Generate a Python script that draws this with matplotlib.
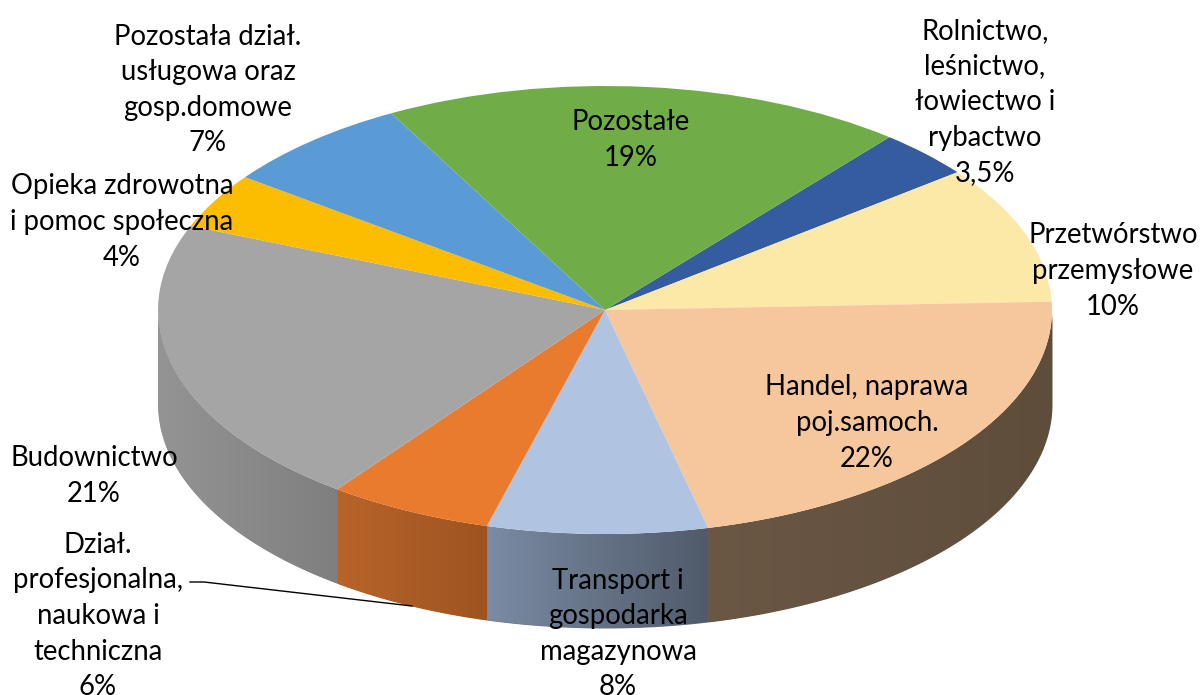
import numpy as np
import matplotlib
matplotlib.use('Agg')
import matplotlib.pyplot as plt
from matplotlib.colors import to_rgb

# Share of each section, clockwise from the top right
sections = ['Rolnictwo, leśnictwo, łowiectwo i rybactwo', 'Przetwórstwo przemysłowe',
            'Handel, naprawa poj.samoch.', 'Transport i gospodarka magazynowa',
            'Dział. profesjonalna, naukowa i techniczna', 'Budownictwo',
            'Opieka zdrowotna i pomoc społeczna', 'Pozostała dział. usługowa oraz gosp.domowe',
            'Pozostałe']
values = [3.5, 10, 22, 8, 6, 21, 4, 7, 19]
top_colors = ['#355c9f', '#fce9a7', '#f6c79c', '#b0c4e2', '#e97b2f',
              '#a5a5a5', '#fcbc00', '#5b9bd5', '#70ad47']
# Wall shading, left and right end of each visible wall
wall_colors = {2: ('#6a5744', '#5f4d3c'), 3: ('#7a8ba3', '#505a6b'),
               4: ('#b7642a', '#9e5420'), 5: ('#949494', '#7f7f7f')}

W, H = 1200, 695
CX, CY, RX, RY = 605, 310, 447, 224
DEPTH = 94 / RY
START = 50.5

plt.rcParams['font.family'] = ['Lato', 'DejaVu Sans']

fig = plt.figure(figsize=(W / 100, H / 100), dpi=100)
ax = fig.add_axes([0, 0, 1, 1])

# The unit circle of the pie becomes the tilted ellipse
ax.pie(values, colors=top_colors, startangle=START, counterclock=False,
       wedgeprops=dict(linewidth=0, zorder=3))
ax.set_aspect('auto')

# Side walls, only the front half of the pie shows
edges = START - 360 * np.cumsum([0] + values) / sum(values)
for i, (left, right) in wall_colors.items():
    t = np.radians(np.linspace(max(edges[i + 1], -180), min(edges[i], 0), 120))
    x = np.cos(t)
    y = np.sin(t)
    c0, c1 = np.array(to_rgb(left)), np.array(to_rgb(right))
    base = ax.fill_between(x, y, y - DEPTH, color=(c0 + c1) / 2, linewidth=0, zorder=2)
    ramp = np.linspace(c0, c1, 256)[np.newaxis, :, :]
    im = ax.imshow(ramp, extent=(x[0], x[-1], (y - DEPTH).min(), y.max()),
                   aspect='auto', zorder=2.1, interpolation='bilinear')
    im.set_clip_path(base.get_paths()[0], transform=ax.transData)

ax.set_xlim(-CX / RX, (W - CX) / RX)
ax.set_ylim(-(H - CY) / RY, CY / RY)
ax.axis('off')


def to_data(px, py):
    return (px - CX) / RX, (CY - py) / RY


# Leader line of the small label
lx, ly = to_data(np.array([190, 204, 412]), np.array([582, 582, 606]))
ax.plot(lx, ly, color='black', linewidth=1, zorder=4)

labels = [
    (208, 90, 'Pozostała dział.\nusługowa oraz\ngosp.domowe\n7%'),
    (985, 102, 'Rolnictwo,\nleśnictwo,\nłowiectwo i\nrybactwo\n3,5%'),
    (631, 140, 'Pozostałe\n19%'),
    (122, 222, 'Opieka zdrowotna\ni pomoc społeczna\n4%'),
    (1113, 271, 'Przetwórstwo\nprzemysłowe\n10%'),
    (867, 423, 'Handel, naprawa\npoj.samoch.\n22%'),
    (94, 476, 'Budownictwo\n21%'),
    (98, 616, 'Dział.\nprofesjonalna,\nnaukowa i\ntechniczna\n6%'),
    (618, 634, 'Transport i\ngospodarka\nmagazynowa\n8%'),
]
for px, py, text in labels:
    fig.text(px / W, 1 - py / H, text, ha='center', va='center', ma='center',
             fontsize=19.8, linespacing=1.46, color='black', zorder=10)

fig.savefig('out.png', dpi=100)
